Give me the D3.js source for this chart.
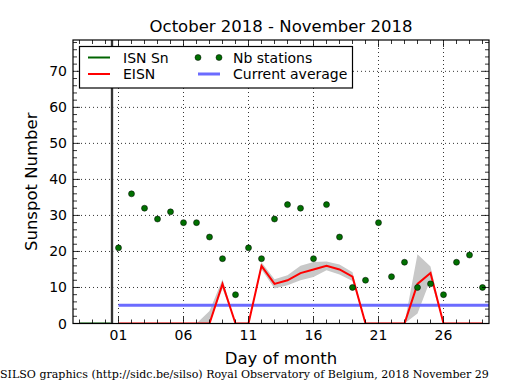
<!DOCTYPE html>
<html><head><meta charset="utf-8">
<script src="https://cdn.jsdelivr.net/npm/d3@7"></script>
<style>body{margin:0;background:#fff}svg{display:block}</style>
</head><body>
<script>
// ---- data ----
const days = [1,2,3,4,5,6,7,8,9,10,11,12,13,14,15,16,17,18,19,20,21,22,23,24,25,26,27,28,29];
const eisn = [0,0,0,0,0,0,0,0,11,0,0,16,11,12,14,15,16,15,13,0,0,0,0,11,14,0,0,0,0];
const eisnSd = [0,0,0,0,0,0,0,3.5,1.3,0,0,1,1.3,1.4,2,2.1,1.2,1.4,1.2,0,0,0,0,8.2,1.8,0,0,0,0];
const nbStations = [21,36,32,29,31,28,28,24,18,8,21,18,29,33,32,18,33,24,10,12,28,13,17,10,11,8,17,19,10];
const isnDays = [-2,-1,0,0.4];
const isnValues = [0,0,0,0];
const currentAverage = 5.05;
const monthBoundary = 0.5;
const xTickDays = [1,6,11,16,21,26];
const xTickLabels = ["01","06","11","16","21","26"];
const yTicks = [0,10,20,30,40,50,60,70];

// ---- layout ----
const W = 515, H = 390;
const m = {l:73, t:40, r:489, b:323.5};
const svg = d3.select("body").append("svg").attr("width",W).attr("height",H)
  .style("font-family","'DejaVu Sans', sans-serif");
const x = d3.scaleLinear().domain([-2.5,29.5]).range([m.l,m.r]);
const y = d3.scaleLinear().domain([0,78.7]).range([m.b,m.t]);

svg.append("clipPath").attr("id","c").append("rect")
  .attr("x",m.l).attr("y",m.t).attr("width",m.r-m.l).attr("height",m.b-m.t);

// grid
const g = svg.append("g");
g.selectAll(".gx").data(xTickDays).join("line")
  .attr("x1",d=>x(d)).attr("x2",d=>x(d)).attr("y1",m.t).attr("y2",m.b)
  .attr("stroke","#000").attr("stroke-width",0.8).attr("stroke-dasharray","1,3");
g.selectAll(".gy").data(yTicks.slice(1)).join("line")
  .attr("x1",m.l).attr("x2",m.r).attr("y1",d=>y(d)).attr("y2",d=>y(d))
  .attr("stroke","#000").attr("stroke-width",0.8).attr("stroke-dasharray","1,3");

const plot = svg.append("g").attr("clip-path","url(#c)");

// band
const bandData = days.map((d,i)=>({d, lo:Math.max(0,eisn[i]-eisnSd[i]), hi:eisn[i]+eisnSd[i]}));
plot.append("path").datum(bandData)
  .attr("d", d3.area().x(d=>x(d.d)).y0(d=>y(d.lo)).y1(d=>y(d.hi)))
  .attr("fill","#c8c8c8");

// vertical month boundary
plot.append("line").attr("x1",x(monthBoundary)).attr("x2",x(monthBoundary))
  .attr("y1",m.t).attr("y2",m.b).attr("stroke","#d0d0d0").attr("stroke-width",3.5);
plot.append("line").attr("x1",x(monthBoundary)).attr("x2",x(monthBoundary))
  .attr("y1",m.t).attr("y2",m.b).attr("stroke","#000").attr("stroke-width",1.5);

// ISN line
plot.append("path").datum(isnDays.map((d,i)=>[d,isnValues[i]]))
  .attr("d", d3.line().x(d=>x(d[0])).y(d=>y(d[1])))
  .attr("fill","none").attr("stroke","#006400").attr("stroke-width",2);

// current average
plot.append("line").attr("x1",x(1)).attr("x2",x(29.5))
  .attr("y1",y(currentAverage)).attr("y2",y(currentAverage))
  .attr("stroke","#6b6bff").attr("stroke-width",3);

// EISN
plot.append("path").datum(days.map((d,i)=>[d,eisn[i]]))
  .attr("d", d3.line().x(d=>x(d[0])).y(d=>y(d[1])))
  .attr("fill","none").attr("stroke","#ff0000").attr("stroke-width",2).attr("stroke-linejoin","miter");

// stations
plot.selectAll(".dot").data(days.map((d,i)=>[d,nbStations[i]])).join("circle")
  .attr("cx",d=>x(d[0])).attr("cy",d=>y(d[1])).attr("r",3)
  .attr("fill","#007000").attr("stroke","#000").attr("stroke-width",0.5);

// frame
svg.append("rect").attr("x",m.l).attr("y",m.t).attr("width",m.r-m.l).attr("height",m.b-m.t)
  .attr("fill","none").attr("stroke","#000").attr("stroke-width",1.2);

// ticks (inward, both sides)
const minorX = d3.range(-2,30,1).filter(d=>!xTickDays.includes(d));
const tk = svg.append("g").attr("stroke","#000").attr("stroke-width",0.8);
xTickDays.forEach(d=>{
  tk.append("line").attr("x1",x(d)).attr("x2",x(d)).attr("y1",m.b).attr("y2",m.b-7);
  tk.append("line").attr("x1",x(d)).attr("x2",x(d)).attr("y1",m.t).attr("y2",m.t+7);
});
minorX.forEach(d=>{
  tk.append("line").attr("x1",x(d)).attr("x2",x(d)).attr("y1",m.b).attr("y2",m.b-4);
  tk.append("line").attr("x1",x(d)).attr("x2",x(d)).attr("y1",m.t).attr("y2",m.t+4);
});
const minorY = d3.range(0,79,2).filter(d=>d%10!==0);
yTicks.forEach(d=>{
  tk.append("line").attr("x1",m.l).attr("x2",m.l+7).attr("y1",y(d)).attr("y2",y(d));
  tk.append("line").attr("x1",m.r).attr("x2",m.r-7).attr("y1",y(d)).attr("y2",y(d));
});
minorY.forEach(d=>{
  tk.append("line").attr("x1",m.l).attr("x2",m.l+4).attr("y1",y(d)).attr("y2",y(d));
  tk.append("line").attr("x1",m.r).attr("x2",m.r-4).attr("y1",y(d)).attr("y2",y(d));
});

// tick labels
svg.selectAll(".xl").data(xTickDays).join("text")
  .attr("x",d=>x(d)).attr("y",340).attr("text-anchor","middle")
  .attr("font-size",14).text((d,i)=>xTickLabels[i]);
svg.selectAll(".yl").data(yTicks).join("text")
  .attr("x",67).attr("y",d=>y(d)+5).attr("text-anchor","end")
  .attr("font-size",14).text(d=>d);

// titles
svg.append("text").attr("x",(m.l+m.r)/2).attr("y",32).attr("text-anchor","middle")
  .attr("font-size",16.5).text("October 2018 - November 2018");
svg.append("text").attr("x",(m.l+m.r)/2).attr("y",363.5).attr("text-anchor","middle")
  .attr("font-size",16.5).text("Day of month");
svg.append("text").attr("transform",`translate(37,${(m.t+m.b)/2}) rotate(-90)`)
  .attr("text-anchor","middle").attr("font-size",16.5).text("Sunspot Number");
svg.append("text").attr("x",0).attr("y",378).attr("font-size",11.05)
  .attr("font-family","'DejaVu Serif', serif")
  .text("SILSO graphics (http://sidc.be/silso) Royal Observatory of Belgium, 2018 November 29");

// legend
const lg = svg.append("g");
lg.append("rect").attr("x",79.5).attr("y",46.5).attr("width",273).attr("height",41.5)
  .attr("fill","#fff").attr("stroke","#000").attr("stroke-width",1.2);
const leg = [
  {t:"ISN Sn", type:"line", c:"#006400", w:2, lx:88, ty:57.5},
  {t:"EISN", type:"line", c:"#ff0000", w:2, lx:88, ty:74},
  {t:"Nb stations", type:"dots", c:"#007000", lx:198, ty:57.5},
  {t:"Current average", type:"line", c:"#6b6bff", w:3, lx:198, ty:74}
];
leg.forEach(e=>{
  if(e.type==="line"){
    lg.append("line").attr("x1",e.lx).attr("x2",e.lx+22).attr("y1",e.ty).attr("y2",e.ty)
      .attr("stroke",e.c).attr("stroke-width",e.w);
  } else {
    [e.lx, e.lx+21].forEach(cx=>lg.append("circle").attr("cx",cx).attr("cy",e.ty).attr("r",3)
      .attr("fill",e.c).attr("stroke","#000").attr("stroke-width",0.5));
  }
  lg.append("text").attr("x",e.lx+35).attr("y",e.ty+5).attr("font-size",14).text(e.t);
});
</script>
</body></html>
